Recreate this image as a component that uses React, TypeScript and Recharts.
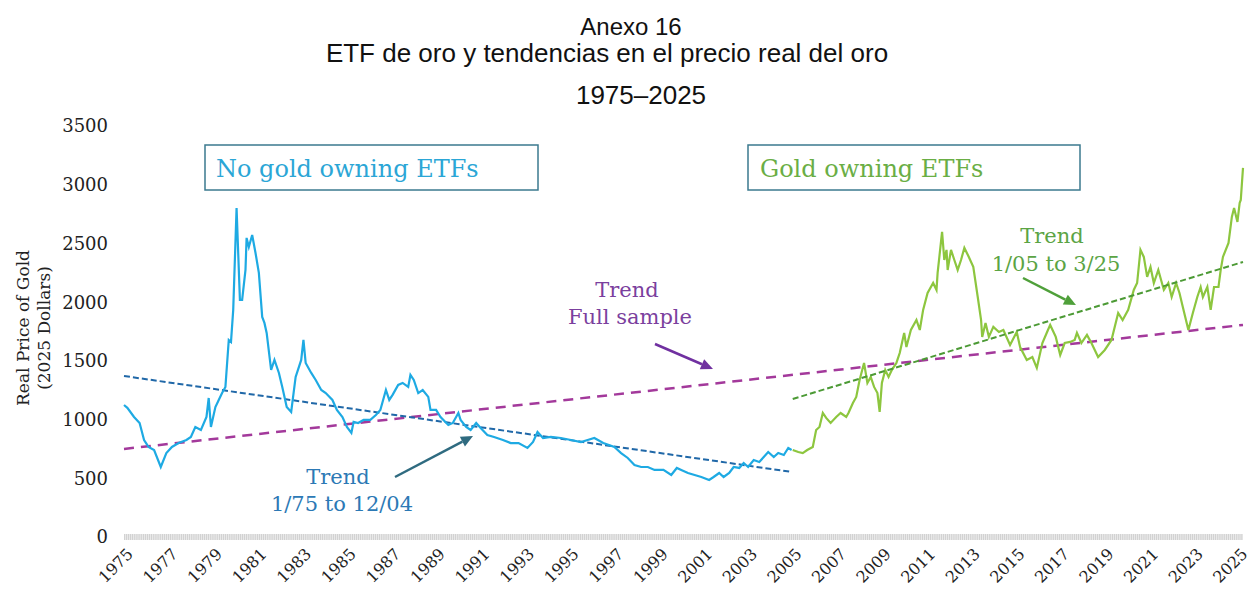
import * as React from 'react';
import { LineChart, Line, XAxis, YAxis } from 'recharts';

// real gold price, 2025 dollars
const preEtfYears = [
  1975.0, 1975.15, 1975.45, 1975.7, 1975.9, 1976.1, 1976.35, 1976.65, 1976.9, 1977.15,
  1977.45, 1977.8, 1978.0, 1978.2, 1978.45, 1978.7, 1978.8, 1978.9, 1979.1, 1979.25,
  1979.4, 1979.55, 1979.7, 1979.8, 1979.9, 1980.05, 1980.2, 1980.3, 1980.45, 1980.5,
  1980.6, 1980.75, 1980.9, 1981.05, 1981.2, 1981.3, 1981.4, 1981.6, 1981.75, 1981.95,
  1982.1, 1982.3, 1982.5, 1982.7, 1982.95, 1983.05, 1983.15, 1983.4, 1983.6, 1983.85,
  1984.05, 1984.35, 1984.55, 1984.8, 1985.0, 1985.2, 1985.3, 1985.5, 1985.75, 1986.05,
  1986.3, 1986.5, 1986.75, 1986.9, 1987.05, 1987.3, 1987.5, 1987.75, 1987.85, 1988.0,
  1988.2, 1988.4, 1988.65, 1988.75, 1989.0, 1989.2, 1989.55, 1989.75, 1990.0, 1990.1,
  1990.35, 1990.55, 1990.8, 1991.0, 1991.3, 1991.6, 1992.0, 1992.35, 1992.7, 1993.1,
  1993.35, 1993.55, 1993.8, 1994.15, 1994.6, 1995.05, 1995.5, 1995.8, 1996.1, 1996.5,
  1997.0, 1997.3, 1997.6, 1997.9, 1998.2, 1998.5, 1998.8, 1999.2, 1999.55, 1999.8,
  2000.0, 2000.3, 2000.6, 2000.9, 2001.25, 2001.45, 2001.7, 2001.9, 2002.15, 2002.35,
  2002.6, 2002.8, 2003.0, 2003.25, 2003.5, 2003.7, 2003.9, 2004.15, 2004.35, 2004.6,
  2004.8, 2004.95,
];
const preEtfPrice = [
  1124, 1100, 1022, 971, 826, 767, 741, 596, 715, 767,
  800, 826, 852, 937, 911, 1022, 1184, 937, 1107, 1167,
  1226, 1278, 1678, 1661, 1934, 2802, 2019, 2019, 2274, 2547,
  2470, 2572, 2419, 2249, 1874, 1823, 1738, 1423, 1508, 1397,
  1278, 1107, 1065, 1363, 1508, 1678, 1482, 1397, 1337, 1252,
  1226, 1167, 1082, 1022, 937, 886, 980, 971, 997, 997,
  1039, 1082, 1252, 1167, 1210, 1295, 1312, 1278, 1380, 1337,
  1226, 1252, 1193, 1082, 1082, 1022, 954, 971, 1056, 997,
  937, 911, 971, 928, 869, 852, 826, 800, 800, 758,
  809, 894, 843, 852, 843, 826, 809, 826, 843, 800,
  767, 715, 673, 613, 596, 596, 571, 571, 528, 588,
  571, 545, 528, 511, 486, 511, 545, 511, 545, 596,
  588, 630, 596, 656, 639, 681, 724, 681, 715, 698,
  758, 741,
];

const etfYears = [
  2005.0, 2005.25, 2005.45, 2005.65, 2005.9, 2006.05, 2006.2, 2006.35, 2006.5, 2006.7,
  2006.95, 2007.15, 2007.4, 2007.5, 2007.7, 2007.85, 2008.0, 2008.2, 2008.35, 2008.5,
  2008.65, 2008.8, 2008.9, 2009.0, 2009.15, 2009.3, 2009.45, 2009.65, 2009.8, 2010.0,
  2010.1, 2010.3, 2010.55, 2010.7, 2010.85, 2011.05, 2011.3, 2011.45, 2011.5, 2011.7,
  2011.8, 2011.9, 2011.95, 2012.1, 2012.25, 2012.4, 2012.55, 2012.7, 2012.9, 2013.1,
  2013.3, 2013.45, 2013.5, 2013.65, 2013.8, 2014.0, 2014.25, 2014.45, 2014.75, 2015.05,
  2015.2, 2015.5, 2015.75, 2015.95, 2016.2, 2016.45, 2016.55, 2016.8, 2017.0, 2017.2,
  2017.45, 2017.65, 2017.75, 2017.95, 2018.2, 2018.4, 2018.7, 2019.0, 2019.3, 2019.6,
  2019.8, 2020.05, 2020.3, 2020.45, 2020.6, 2020.75, 2020.9, 2021.05, 2021.2, 2021.4,
  2021.65, 2021.85, 2022.0, 2022.2, 2022.35, 2022.5, 2022.75, 2022.95, 2023.15, 2023.3,
  2023.4, 2023.6, 2023.75, 2023.9, 2024.1, 2024.2, 2024.3, 2024.55, 2024.7, 2024.8,
  2024.95, 2025.05, 2025.1, 2025.2,
];
const etfPrice = [
  741, 724, 715, 741, 767, 911, 937, 1056, 1014, 971,
  1022, 1056, 1022, 1056, 1141, 1193, 1337, 1482, 1312, 1363,
  1278, 1226, 1065, 1312, 1423, 1363, 1423, 1482, 1567, 1738,
  1618, 1763, 1848, 1763, 1934, 2078, 2163, 2104, 2249, 2598,
  2359, 2445, 2274, 2445, 2359, 2274, 2359, 2462, 2385, 2300,
  2044, 1848, 1704, 1823, 1704, 1789, 1746, 1763, 1635, 1746,
  1618, 1508, 1533, 1440, 1652, 1763, 1806, 1704, 1550, 1652,
  1661, 1678, 1738, 1652, 1721, 1652, 1533, 1593, 1678, 1908,
  1848, 1934, 2104, 2163, 2445, 2385, 2215, 2300, 2163, 2274,
  2104, 2163, 2044, 2163, 2078, 1959, 1763, 1908, 2044, 2129,
  2044, 2129, 1934, 2129, 2129, 2274, 2385, 2504, 2726, 2802,
  2683, 2845, 2870, 3143,
];

// fitted trend end points [year, price]
const trendPreEtf = [[1975, 1371], [2004.95, 554]];
const trendFull = [[1975, 750], [2025.2, 1806]];
const trendEtf = [[2005, 1175], [2025.2, 2342]];

const yearTicks = [
  1975, 1977, 1979, 1981, 1983, 1985, 1987, 1989, 1991, 1993, 1995, 1997, 1999,
  2001, 2003, 2005, 2007, 2009, 2011, 2013, 2015, 2017, 2019, 2021, 2023, 2025,
];
const priceTicks = [0, 500, 1000, 1500, 2000, 2500, 3000, 3500];

const toRows = (xs: number[], ys: number[]) => xs.map((x, i) => ({ year: x, price: ys[i] }));
const pairRows = (pts: number[][]) => pts.map(p => ({ year: p[0], price: p[1] }));

const SERIF = '"DejaVu Serif", serif';
const SANS = '"Liberation Sans", Arial, sans-serif';

const YearTick = (props: any) => {
  const { x, y, payload } = props;
  const px = x + 10;
  const py = y + 18;
  return (
    <text x={px} y={py} transform={`rotate(-45 ${px} ${py})`} textAnchor="end"
      fontFamily={SERIF} fontSize={16} fill="#222">
      {payload.value}
    </text>
  );
};

const Arrow = ({ x1, y1, x2, y2, color }: any) => {
  const a = Math.atan2(y2 - y1, x2 - x1);
  const len = 12, w = 5.5;
  const bx = x2 - len * Math.cos(a), by = y2 - len * Math.sin(a);
  const head = `${x2},${y2} ${bx - w * Math.sin(a)},${by + w * Math.cos(a)} ${bx + w * Math.sin(a)},${by - w * Math.cos(a)}`;
  return (
    <g>
      <line x1={x1} y1={y1} x2={bx} y2={by} stroke={color} strokeWidth={2.5} />
      <polygon points={head} fill={color} />
    </g>
  );
};

export default function App() {
  return (
    <div style={{ position: 'absolute', left: 0, top: 0, width: 1251, height: 592, background: '#fff' }}>
      <LineChart width={1251} height={592} margin={{ top: 126, right: 8, bottom: 0, left: 0 }}>
        <XAxis type="number" dataKey="year" domain={[1975, 2025.2]} ticks={yearTicks} interval={0}
          height={55} tickSize={0} tickMargin={0} tick={<YearTick />}
          axisLine={{ stroke: '#d2d2d2', strokeWidth: 6, strokeDasharray: '1.4 0.5' }} />
        <YAxis type="number" dataKey="price" domain={[0, 3500]} ticks={priceTicks} width={124}
          axisLine={false} tickLine={false} tickSize={0} tickMargin={16}
          tick={{ fontFamily: SERIF, fontSize: 18, fill: '#222' }} />
        <Line data={pairRows(trendFull)} dataKey="price" stroke="#a3399b" strokeWidth={2.5}
          strokeDasharray="10 7" dot={false} isAnimationActive={false} />
        <Line data={pairRows(trendPreEtf)} dataKey="price" stroke="#2068a8" strokeWidth={2}
          strokeDasharray="6 3" dot={false} isAnimationActive={false} />
        <Line data={toRows(preEtfYears, preEtfPrice)} dataKey="price" stroke="#1eaae3" strokeWidth={2.2}
          dot={false} isAnimationActive={false} />
        <Line data={toRows(etfYears, etfPrice)} dataKey="price" stroke="#8dc63f" strokeWidth={2.2}
          dot={false} isAnimationActive={false} />
        <Line data={pairRows(trendEtf)} dataKey="price" stroke="#4c9a35" strokeWidth={2}
          strokeDasharray="6 3" dot={false} isAnimationActive={false} />
      </LineChart>

      <svg width={1251} height={592} style={{ position: 'absolute', left: 0, top: 0, pointerEvents: 'none' }}>
        <text x={631} y={35} textAnchor="middle" fontFamily={SANS} fontSize={24} fill="#111">Anexo 16</text>
        <text x={607} y={62} textAnchor="middle" fontFamily={SANS} fontSize={26} fill="#111">
          ETF de oro y tendencias en el precio real del oro
        </text>
        <text x={641} y={104} textAnchor="middle" fontFamily={SANS} fontSize={26} fill="#111">1975–2025</text>

        <g transform="translate(29 328) rotate(-90)" fontFamily={SERIF} fontSize={17} fill="#222">
          <text x={0} y={0} textAnchor="middle">Real Price of Gold</text>
          <text x={0} y={21} textAnchor="middle">(2025 Dollars)</text>
        </g>

        <rect x={205} y={145} width={333} height={45} fill="#fff" stroke="#3b7a8f" strokeWidth={1.5} />
        <text x={216} y={177} fontFamily={SERIF} fontSize={24} fill="#2ba6d6">No gold owning ETFs</text>
        <rect x={748} y={145} width={332} height={45} fill="#fff" stroke="#3b7a8f" strokeWidth={1.5} />
        <text x={760} y={177} fontFamily={SERIF} fontSize={24} fill="#6aae45">Gold owning ETFs</text>

        <g fontFamily={SERIF} fontSize={21} textAnchor="middle">
          <text x={338} y={484} fill="#2c79b5">Trend</text>
          <text x={342} y={511} fill="#2c79b5">1/75 to 12/04</text>
          <text x={627} y={297} fill="#7b3f9e">Trend</text>
          <text x={630} y={324} fill="#7b3f9e">Full sample</text>
          <text x={1052} y={243} fill="#5ba444">Trend</text>
          <text x={1056} y={271} fill="#5ba444">1/05 to 3/25</text>
        </g>

        <Arrow x1={395} y1={477} x2={473} y2={436} color="#2f6b80" />
        <Arrow x1={655} y1={344} x2={713} y2={369} color="#7030a0" />
        <Arrow x1={1023} y1={278} x2={1076} y2={305} color="#4fa03a" />
      </svg>
    </div>
  );
}
